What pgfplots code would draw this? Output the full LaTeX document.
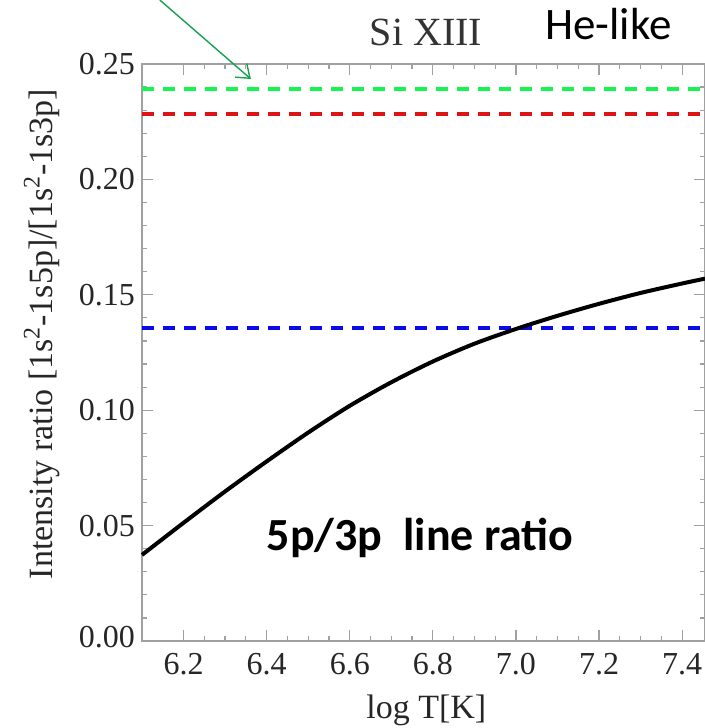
\documentclass[border=0pt]{standalone}
\usepackage{fontspec}
\setmainfont{Liberation Serif}
\newfontfamily\calibri{Carlito}
\usepackage{pgfplots}
\pgfplotsset{compat=1.18}
\usetikzlibrary{arrows.meta}
\definecolor{lgreen}{RGB}{20,245,80}
\definecolor{lred}{RGB}{220,20,20}
\definecolor{lblue}{RGB}{10,10,235}
\definecolor{agreen}{RGB}{20,160,80}
\definecolor{axgray}{RGB}{160,160,160}
\begin{document}
\begin{tikzpicture}
\useasboundingbox (-71pt,-43.5pt) rectangle (281.5pt,320.5pt);
\begin{axis}[
  at={(0,0)}, anchor=south west,
  scale only axis, width=281.5pt, height=288.5pt,
  xmin=6.1, xmax=7.455, ymin=0, ymax=0.25,
  clip=false,
  tick pos=both, tick align=inside,
  xtick={6.2,6.4,6.6,6.8,7.0,7.2,7.4},
  xticklabels={6.2,6.4,6.6,6.8,7.0,7.2,7.4},
  ytick={0,0.05,0.10,0.15,0.20,0.25},
  yticklabels={\raisebox{4.5pt}{0.00},0.05,0.10,0.15,0.20,\raisebox{-4.5pt}{0.25}},
  minor x tick num=3, minor y tick num=4,
  major tick length=5.5pt, minor tick length=2.5pt,
  tick style={axgray, line width=0.6pt},
  axis line style={axgray, line width=0.9pt},
  tick label style={font=\fontsize{16}{18}\selectfont, text=black!85},
  xticklabel style={yshift=-2.5pt},
  xlabel={log T[K]},
  xlabel style={font=\fontsize{17}{19}\selectfont, at={(axis description cs:0.505,-0.12)}, anchor=center, text=black!85},
  ylabel={Intensity ratio [1s\textsuperscript{2}-1s5p]/[1s\textsuperscript{2}-1s3p]},
  ylabel style={font=\fontsize{17}{19}\selectfont, at={(axis description cs:-0.178,0.532)}, anchor=center, text=black!85},
]
\addplot[lgreen, line width=2pt, dash pattern=on 6pt off 4.5pt] coordinates {(6.1,0.2392) (7.455,0.2392)};
\addplot[lred, line width=2pt, dash pattern=on 6pt off 4.5pt] coordinates {(6.1,0.2283) (7.455,0.2283)};
\addplot[lblue, line width=2pt, dash pattern=on 6pt off 4.5pt] coordinates {(6.1,0.1356) (7.455,0.1356)};
\addplot[black, line width=2pt, smooth] coordinates {
(6.10,0.0373) (6.20,0.0512) (6.30,0.0648) (6.40,0.0778) (6.50,0.0903)
(6.60,0.1019) (6.70,0.1121) (6.80,0.1211) (6.90,0.1288) (7.00,0.1352)
(7.10,0.1409) (7.20,0.1461) (7.30,0.1508) (7.40,0.1549) (7.455,0.1570)};
\draw[agreen, line width=0.7pt, -{Straight Barb[length=6pt,width=9pt]}] (axis cs:6.143,0.2777) -- (axis cs:6.362,0.2435);
\node[anchor=base, font=\fontsize{20}{22}\selectfont, text=black!80] at (axis cs:6.7834,0.2582) {Si XIII};
\node[anchor=base, font=\calibri\fontsize{22.5}{25}\selectfont] at (axis cs:7.2226,0.2604) {He-like};
\node[anchor=base, font=\calibri\bfseries\fontsize{23}{26}\selectfont] at (axis cs:6.7695,0.0394) {5p/3p\ \ line ratio};
\end{axis}
\end{tikzpicture}
\end{document}
